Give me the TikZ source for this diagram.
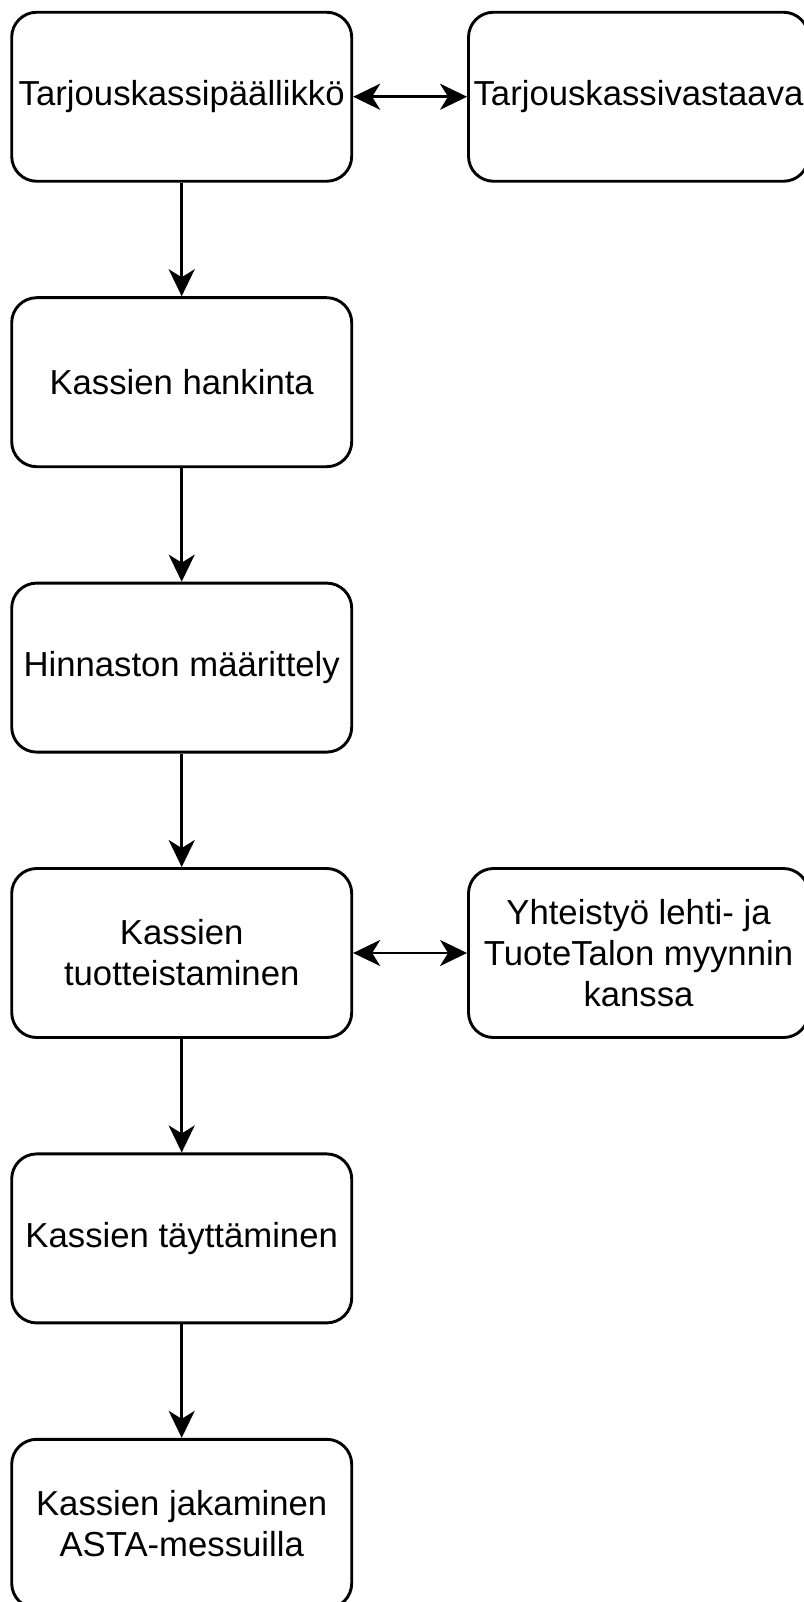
\documentclass[tikz,border=0pt]{standalone}
\usepackage{fontspec}
\setmainfont{Liberation Sans}
\usetikzlibrary{arrows.meta}
\tikzstyle{stepbox}=[draw,line width=2.9pt,rounded corners=25pt,minimum width=340pt,minimum height=169pt,inner sep=0pt,align=center,font=\fontsize{34.7}{41}\selectfont]
\tikzstyle{myarrow}=[line width=2.9pt,-{Stealth[length=27pt,width=26pt,inset=8pt]}]
\tikzstyle{mydarrow}=[line width=2.9pt,{Stealth[length=27pt,width=26pt,inset=8pt]}-{Stealth[length=27pt,width=26pt,inset=8pt]}]

\begin{document}
\begin{tikzpicture}[x=1pt,y=-1pt]
		\useasboundingbox (0,0) rectangle (803,1602);

		\foreach \n / \y / \t in {1/96.75/{Tarjouskassipäällikkö},2/382.2/{Kassien hankinta},3/667.6/{Hinnaston määrittely},4/953/{Kassien\\tuotteistaminen},5/1238.4/{Kassien täyttäminen},6/1523.8/{Kassien jakaminen\\ASTA-messuilla}} {
			\node[stepbox] (k\n) at (181.7,\y) {\t};
		}
		\node[stepbox] (vastaava) at (638.5,96.75) {Tarjouskassivastaava};
		\node[stepbox] (myynti) at (638.5,953) {Yhteistyö lehti- ja\\TuoteTalon myynnin\\kanssa};

		\foreach \a / \b in {1/2,2/3,3/4,4/5,5/6} { \draw[myarrow] (k\a) -- (k\b);}
		\draw[mydarrow] (k1) -- (vastaava);
		\draw[mydarrow] (k4) -- (myynti);
	\end{tikzpicture}
\end{document}
